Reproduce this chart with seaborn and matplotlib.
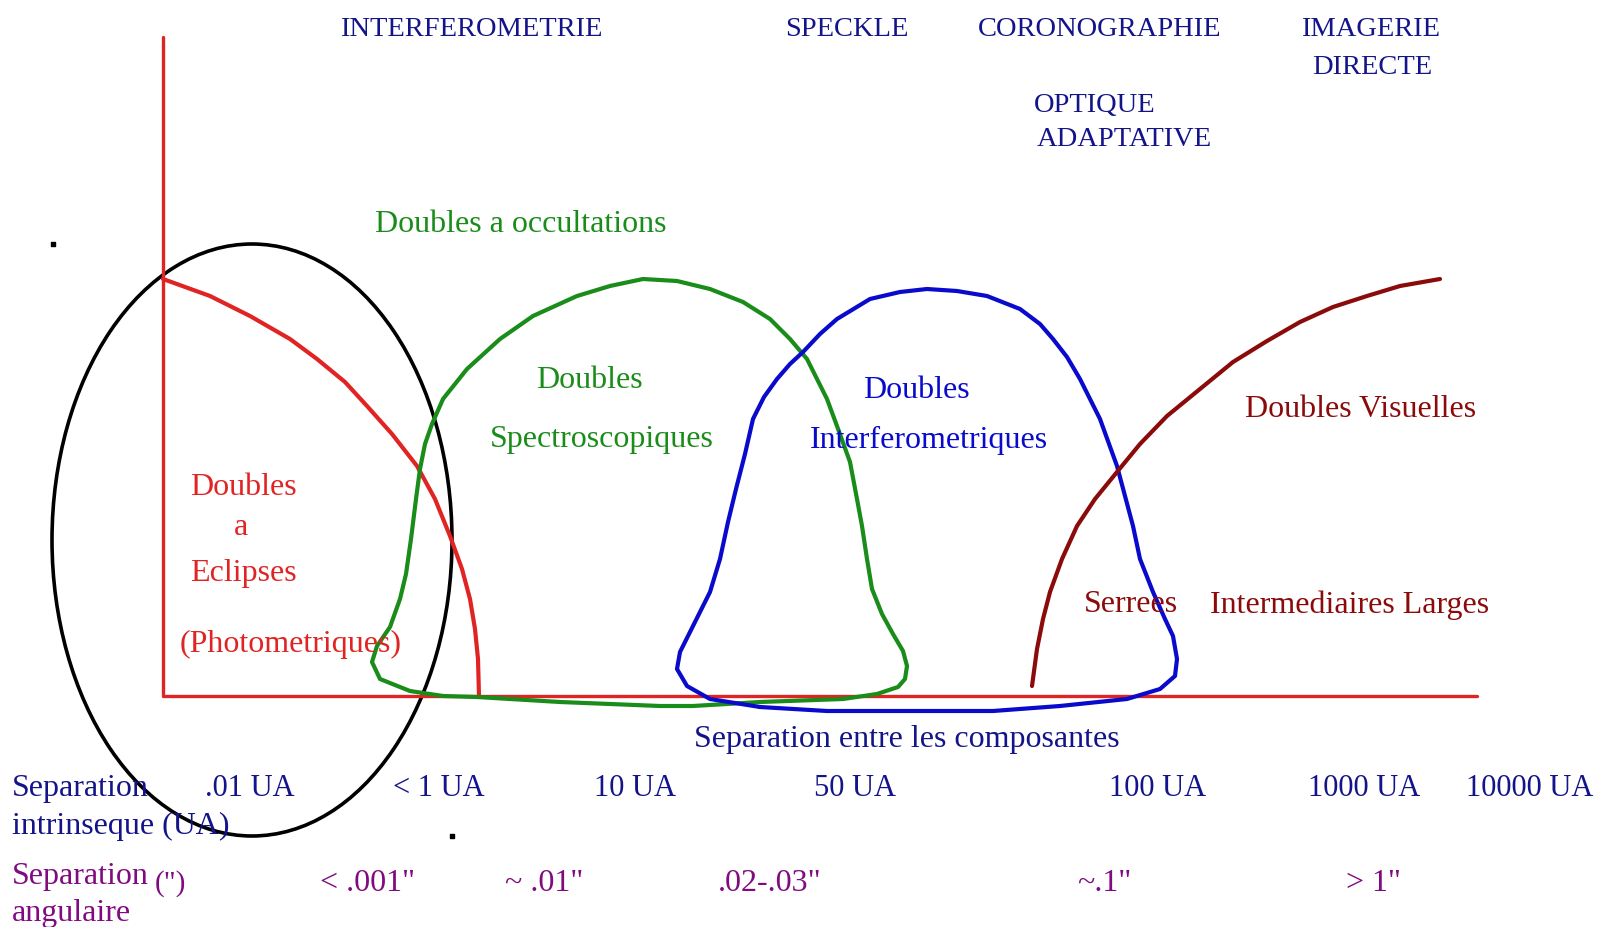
import numpy as np
import pandas as pd
import matplotlib
matplotlib.use('Agg')
import matplotlib.pyplot as plt
import seaborn as sns
from matplotlib.patches import Ellipse

sns.set_style('white')
plt.rcParams['font.family'] = ['Liberation Serif', 'DejaVu Serif']

# Curves (x, y in image pixels)
eclipse_x = [163, 210, 250, 290, 317, 345, 367, 392, 417, 435, 450, 462, 470, 475, 478, 479]
eclipse_y = [280, 297, 317, 340, 360, 383, 407, 435, 467, 500, 537, 570, 600, 630, 660, 697]

spectro_x = [443, 410, 380, 372, 377, 390, 400, 406, 411, 416, 420, 425, 432, 443, 467, 500, 533,
             577, 610, 643, 677, 710, 743, 770, 790, 807, 827, 837, 850, 857, 862, 867, 872, 882,
             893, 903, 907, 905, 898, 877, 843, 760, 693, 660, 560, 477, 443]
spectro_y = [697, 692, 680, 663, 647, 628, 600, 575, 540, 500, 470, 445, 425, 400, 370, 340, 317,
             297, 287, 280, 282, 290, 303, 320, 340, 360, 400, 427, 463, 500, 527, 560, 590, 615,
             635, 652, 667, 680, 688, 695, 700, 703, 707, 707, 703, 698, 697]

interfero_x = [760, 710, 687, 677, 680, 693, 710, 720, 728, 736, 745, 753, 764, 777, 790, 803, 820,
               837, 870, 900, 927, 957, 987, 1020, 1040, 1053, 1067, 1080, 1100, 1117, 1133, 1140,
               1153, 1165, 1173, 1177, 1175, 1160, 1127, 1060, 993, 900, 827, 760]
interfero_y = [708, 700, 687, 670, 653, 627, 593, 560, 523, 490, 455, 420, 398, 380, 365, 353, 335,
               320, 300, 293, 290, 292, 297, 310, 325, 340, 358, 380, 420, 467, 527, 560,
               593, 620, 637, 660, 677, 690, 700, 707, 712, 712, 712, 708]

visuel_x = [1032, 1037, 1043, 1050, 1062, 1077, 1095, 1117, 1140, 1167, 1200, 1233, 1267, 1300,
            1333, 1367, 1400, 1440]
visuel_y = [687, 650, 620, 593, 560, 527, 500, 473, 445, 417, 390, 363, 342, 323, 308, 297, 287, 280]

# frame (red axes) and highlight ellipse
axis_x = [163, 163, 1477]
axis_y = [38, 697, 697]
ellipse_center = (252, 541)
ellipse_size = (400, 592)

# texts
top_labels = ['INTERFEROMETRIE', 'SPECKLE', 'CORONOGRAPHIE', 'IMAGERIE']
top_x = [471, 847, 1100, 1371]
ua_labels = ['.01 UA', '< 1 UA', '10 UA', '50 UA', '100 UA', '1000 UA', '10000 UA']
ua_x = [250, 439, 635, 855, 1158, 1364, 1530]
ang_labels = ['< .001"', '~ .01"', '.02-.03"', '~.1"', '> 1"']
ang_x = [368, 544, 770, 1104, 1373]

NAVY = '#14148a'
GREEN = '#1a8c1a'
RED = '#e02424'
BLUE = '#0a0acc'
DARKRED = '#8b0a0a'
PURPLE = '#800a80'

fig = plt.figure(figsize=(16, 9.28), dpi=100)
ax = fig.add_axes([0, 0, 1, 1])

curves = [
    (eclipse_x, eclipse_y, RED),
    (spectro_x, spectro_y, GREEN),
    (interfero_x, interfero_y, BLUE),
    (visuel_x, visuel_y, DARKRED),
]
sns.lineplot(x=axis_x, y=axis_y, sort=False, estimator=None, color=RED, lw=2.4, ax=ax)
for cx, cy, col in curves:
    df = pd.DataFrame({'x': cx, 'y': cy})
    sns.lineplot(data=df, x='x', y='y', sort=False, estimator=None, color=col, lw=3,
                 solid_joinstyle='round', solid_capstyle='round', ax=ax)

ax.add_patch(Ellipse(ellipse_center, ellipse_size[0], ellipse_size[1],
                     fill=False, ec='black', lw=2.6))
ax.scatter([53, 452], [245, 837], marker='s', s=6, color='black')

TOP = 20.5
FS = 23

# top techniques
for lab, x in zip(top_labels, top_x):
    ax.text(x, 29, lab, color=NAVY, fontsize=TOP, ha='center', va='center')
ax.text(1372, 67, 'DIRECTE', color=NAVY, fontsize=TOP, ha='center', va='center')
ax.text(1034, 106, 'OPTIQUE', color=NAVY, fontsize=TOP, ha='left', va='center')
ax.text(1037, 140, 'ADAPTATIVE', color=NAVY, fontsize=TOP, ha='left', va='center')

# class labels
ax.text(521, 224, 'Doubles a occultations', color=GREEN, fontsize=FS, ha='center', va='center')
ax.text(589, 381, 'Doubles', color=GREEN, fontsize=FS, ha='center', va='center')
ax.text(602, 440, 'Spectroscopiques', color=GREEN, fontsize=FS, ha='center', va='center')
ax.text(916, 391, 'Doubles', color=BLUE, fontsize=FS, ha='center', va='center')
ax.text(929, 440, 'Interferometriques', color=BLUE, fontsize=FS, ha='center', va='center')
ax.text(1361, 410, 'Doubles Visuelles', color=DARKRED, fontsize=FS, ha='center', va='center')
ax.text(1131, 605, 'Serrees', color=DARKRED, fontsize=FS, ha='center', va='center')
ax.text(1350, 605, 'Intermediaires Larges', color=DARKRED, fontsize=FS, ha='center', va='center')
ax.text(243, 488, 'Doubles', color=RED, fontsize=FS, ha='center', va='center')
ax.text(241, 528, 'a', color=RED, fontsize=FS, ha='center', va='center')
ax.text(243, 574, 'Eclipses', color=RED, fontsize=FS, ha='center', va='center')
ax.text(291, 644, '(Photometriques)', color=RED, fontsize=FS, ha='center', va='center')

# bottom scales
ax.text(907, 740, 'Separation entre les composantes', color=NAVY, fontsize=FS,
        ha='center', va='center')
ax.text(12, 789, 'Separation', color=NAVY, fontsize=FS, ha='left', va='center')
ax.text(12, 826, 'intrinseque (UA)', color=NAVY, fontsize=FS, ha='left', va='center')
for lab, x in zip(ua_labels, ua_x):
    ax.text(x, 789, lab, color=NAVY, fontsize=FS - 1, ha='center', va='center')

ax.text(12, 877, 'Separation', color=PURPLE, fontsize=FS, ha='left', va='center')
ax.text(170, 884, '(")', color=PURPLE, fontsize=21, ha='center', va='center')
ax.text(12, 914, 'angulaire', color=PURPLE, fontsize=FS, ha='left', va='center')
for lab, x in zip(ang_labels, ang_x):
    ax.text(x, 884, lab, color=PURPLE, fontsize=FS, ha='center', va='center')

ax.set_xlim(0, 1600)
ax.set_ylim(928, 0)
ax.set_axis_off()
fig.savefig('out.png', dpi=100, facecolor='white')
